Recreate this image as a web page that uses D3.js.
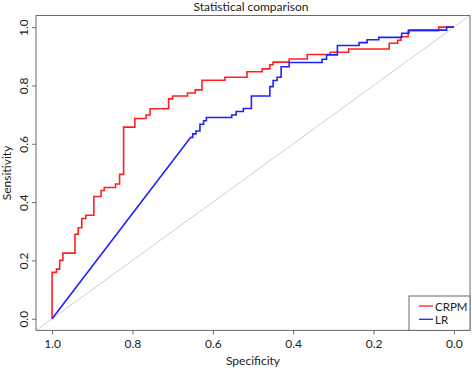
<!DOCTYPE html>
<html>
<head>
<meta charset="utf-8">
<script src="https://cdn.jsdelivr.net/npm/d3@7/dist/d3.min.js"></script>
<style>
  html, body { margin: 0; padding: 0; background: #fff; }
  svg { display: block; }
  text { font-family: Lato, "Open Sans", sans-serif; fill: #222; }
</style>
</head>
<body>
<svg id="chart" width="472" height="368"></svg>
<script>
// ---- data ----
const title = "Statistical comparison";
const xLabel = "Specificity";
const yLabel = "Sensitivity";
const tickValues = [1.0, 0.8, 0.6, 0.4, 0.2, 0.0];
const seriesNames = ["CRPM", "LR"];
const seriesColors = ["#ff2020", "#2020ff"];

// CRPM: step points (specificity where a level starts, sensitivity level)
const crpmSpec = [1.000, 0.989, 0.981, 0.973, 0.943, 0.935, 0.926, 0.916, 0.896, 0.878,
                  0.870, 0.842, 0.832, 0.822, 0.794, 0.766, 0.756, 0.710, 0.700, 0.663,
                  0.644, 0.627, 0.570, 0.515, 0.477, 0.458, 0.450, 0.410, 0.365, 0.308,
                  0.262, 0.161, 0.140, 0.132, 0.114, 0.038, 0.000];
const crpmSens = [0.159, 0.170, 0.200, 0.225, 0.290, 0.312, 0.344, 0.355, 0.419, 0.440,
                  0.450, 0.462, 0.495, 0.657, 0.687, 0.699, 0.720, 0.754, 0.764, 0.774,
                  0.785, 0.818, 0.828, 0.847, 0.857, 0.871, 0.880, 0.891, 0.906, 0.914,
                  0.925, 0.945, 0.955, 0.967, 0.988, 1.000, 1.000];

// LR: straight from origin to first point, then steps
const lrSpec = [0.655, 0.650, 0.642, 0.632, 0.623, 0.616, 0.553, 0.542, 0.524, 0.504,
                0.458, 0.450, 0.440, 0.430, 0.410, 0.328, 0.317, 0.290, 0.236, 0.216,
                0.187, 0.130, 0.112, 0.018, 0.000];
const lrSens = [0.622, 0.634, 0.644, 0.667, 0.679, 0.690, 0.699, 0.711, 0.721, 0.764,
                0.796, 0.817, 0.828, 0.864, 0.879, 0.890, 0.905, 0.937, 0.947, 0.957,
                0.965, 0.979, 0.990, 1.000, 1.000];

// ---- layout ----
const svg = d3.select("#chart");
const L = 36, R = 470, T = 15.5, B = 330.4;
const x = d3.scaleLinear().domain([1.04, -0.04]).range([L, R]);
const y = d3.scaleLinear().domain([-0.04, 1.04]).range([B, T]);

svg.append("defs").append("clipPath").attr("id", "clip")
  .append("rect").attr("x", L).attr("y", T).attr("width", R - L).attr("height", B - T);

// diagonal reference
svg.append("line")
  .attr("x1", x(1.04)).attr("y1", y(-0.04))
  .attr("x2", x(-0.04)).attr("y2", y(1.04))
  .attr("stroke", "#cfcfcf").attr("stroke-width", 1);

function corners(spec, sens) {
  const pts = [[1, 0]];
  for (let i = 0; i < spec.length; i++) {
    if (i > 0) pts.push([spec[i], sens[i - 1]]);
    pts.push([spec[i], sens[i]]);
  }
  return pts;
}
const line = d3.line().x(d => x(d[0])).y(d => y(d[1]));
const g = svg.append("g").attr("clip-path", "url(#clip)");
g.append("path").datum(corners(crpmSpec, crpmSens))
  .attr("d", line).attr("fill", "none").attr("stroke", seriesColors[0]).attr("stroke-width", 1.6);
g.append("path").datum(corners(lrSpec, lrSens))
  .attr("d", line).attr("fill", "none").attr("stroke", seriesColors[1]).attr("stroke-width", 1.6);

// box
svg.append("rect").attr("x", L).attr("y", T).attr("width", R - L).attr("height", B - T)
  .attr("fill", "none").attr("stroke", "#6a6a6a").attr("stroke-width", 1);

// x axis
const xAxis = svg.append("g").attr("transform", `translate(0,${B})`)
  .call(d3.axisBottom(x).tickValues(tickValues).tickFormat(d3.format(".1f")).tickSize(4).tickPadding(5));
xAxis.select(".domain").remove();
xAxis.selectAll("line").attr("stroke", "#6a6a6a");
xAxis.selectAll("text").style("font-family", "Lato, sans-serif").style("font-size", "12px").attr("fill", "#222");

// y axis
const yAxis = svg.append("g").attr("transform", `translate(${L},0)`)
  .call(d3.axisLeft(y).tickValues(tickValues).tickFormat(d3.format(".1f")).tickSize(4));
yAxis.select(".domain").remove();
yAxis.selectAll("line").attr("stroke", "#6a6a6a");
yAxis.selectAll("text")
  .attr("x", null).attr("dy", null)
  .attr("text-anchor", "middle")
  .attr("transform", "translate(-13,0) rotate(-90)")
  .attr("dominant-baseline", "central")
  .style("font-family", "Lato, sans-serif").style("font-size", "12px").attr("fill", "#222");

// title and labels
svg.append("text").attr("x", 251).attr("y", 11).attr("text-anchor", "middle")
  .style("font-size", "12px").text(title);
svg.append("text").attr("x", (x(1) + x(0)) / 2).attr("y", 365).attr("text-anchor", "middle")
  .style("font-size", "12px").text(xLabel);
svg.append("text").attr("transform", `translate(11,${(T + B) / 2}) rotate(-90)`)
  .attr("text-anchor", "middle").style("font-size", "12px").text(yLabel);

// legend
const lg = svg.append("g");
lg.append("rect").attr("x", 409).attr("y", 296).attr("width", R - 409).attr("height", B - 296)
  .attr("fill", "#fff").attr("stroke", "#6a6a6a").attr("stroke-width", 1);
seriesNames.forEach((n, i) => {
  const yy = 306 + i * 13.3;
  lg.append("line").attr("x1", 419).attr("x2", 433).attr("y1", yy).attr("y2", yy)
    .attr("stroke", seriesColors[i]).attr("stroke-width", 1.3);
  lg.append("text").attr("x", 435).attr("y", yy).attr("dominant-baseline", "central")
    .style("font-size", "11.5px").text(n);
});
</script>
</body>
</html>
